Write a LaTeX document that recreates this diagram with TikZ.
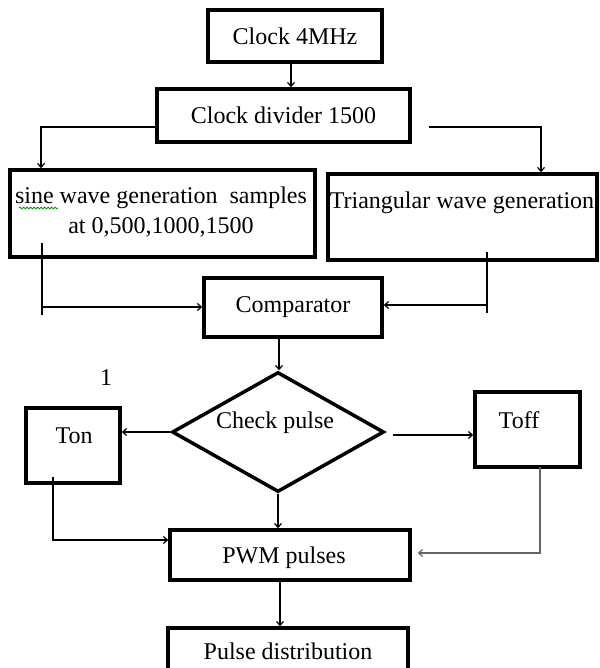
\documentclass[tikz,border=0pt]{standalone}
\usepackage{fontspec}
\setmainfont{Liberation Serif}
\usetikzlibrary{arrows.meta,shapes.geometric,decorations.pathmorphing}
\begin{document}
\begin{tikzpicture}[x=1pt,y=-1pt,
  font=\fontsize{24}{30}\selectfont,
  box/.style={draw, line width=3.5pt, inner sep=0pt},
  txt/.style={inner sep=0pt},
  conn/.style={line width=1.2pt},
  arr/.style={conn, -{Straight Barb[length=4pt,width=7pt]}},
]
\useasboundingbox (0,0) rectangle (599,668);
% boxes
\node[box, minimum width=174pt, minimum height=52pt] (clk) at (295,36) {Clock 4MHz};
\node[box, minimum width=253pt, minimum height=53pt] (div) at (283.5,115.5) {Clock divider 1500};
\node[box, minimum width=305pt, minimum height=87pt] (sine) at (162.5,213.5) {};
\node[txt, align=center] (sinetxt) at (161,212) {sine wave generation~ samples\\at 0,500,1000,1500};
\node[box, minimum width=269pt, minimum height=86pt] (tri) at (462.5,217) {};
\node[txt] (tritxt) at (462,203) {Triangular wave generation};
\node[box, minimum width=178pt, minimum height=59pt] (comp) at (293,307.5) {Comparator};
\node[diamond, draw, line width=3.5pt, minimum width=212pt, minimum height=120pt, inner sep=0pt] (chk) at (278,432) {};
\node[txt] (chktxt) at (275,423) {Check pulse};
\node[box, minimum width=94pt, minimum height=75pt] (ton) at (73,445.5) {};
\node[txt] (tontxt) at (74,436) {Ton};
\node[box, minimum width=105pt, minimum height=75pt] (toff) at (527.5,429.5) {};
\node[txt] (tofftxt) at (519,420) {Toff};
\node[box, minimum width=240pt, minimum height=50pt] (pwm) at (290,555) {};
\node[txt] (pwmtxt) at (284,558) {PWM pulses};
\node[box, minimum width=240pt, minimum height=46pt] (pd) at (288,651) {};
\node[txt] (pdtxt) at (288,651) {Pulse distribution};
\node[txt] (one) at (106,378) {1};
% spelling squiggle
\draw[green!60!black, line width=0.8pt, decorate, decoration={snake, amplitude=1pt, segment length=3.5pt}] (19,208) -- (58,208);
% connectors
\coordinate (c1) at ([xshift=-4pt]clk.south);
\draw[arr] (c1) -- (c1 |- div.north);
\coordinate (dl) at ([yshift=-11.5pt]div.west);
\coordinate (sl) at ([xshift=-121.5pt]sine.north);
\draw[arr] (dl) -| (sl);
\coordinate (dr) at (429,127);
\coordinate (tr) at ([xshift=78.5pt]tri.north);
\draw[arr] (dr) -| (tr);
\coordinate (s1) at (42,243);
\coordinate (s2) at (42,315);
\coordinate (sj) at (42,307);
\draw[conn] (s1) -- (s2);
\draw[arr] (sj) -- (sj -| comp.west);
\coordinate (r1) at (487,252);
\coordinate (r2) at (487,313);
\coordinate (rj) at (487,305);
\draw[conn] (r1) -- (r2);
\draw[arr] (rj) -- (rj -| comp.east);
\coordinate (c2) at ([xshift=-14pt]comp.south);
\draw[arr] (c2) -- (c2 |- chk.north);
\draw[arr] (chk.west) -- (chk.west -| ton.east);
\coordinate (k1) at ([xshift=7pt,yshift=-3pt]chk.east);
\draw[arr] (k1) -- (k1 -| toff.west);
\coordinate (t1) at (53,477);
\coordinate (p1) at ([yshift=15pt]pwm.west);
\draw[arr] (t1) |- (p1);
\coordinate (t2) at (540,467);
\coordinate (p2) at ([xshift=6pt,yshift=2pt]pwm.east);
\draw[arr, draw=black!60] (t2) |- (p2);
\draw[arr] (chk.south) -- (chk.south |- pwm.north);
\coordinate (p3) at ([xshift=-10pt]pwm.south);
\draw[arr] (p3) -- (p3 |- pd.north);
\end{tikzpicture}
\end{document}
